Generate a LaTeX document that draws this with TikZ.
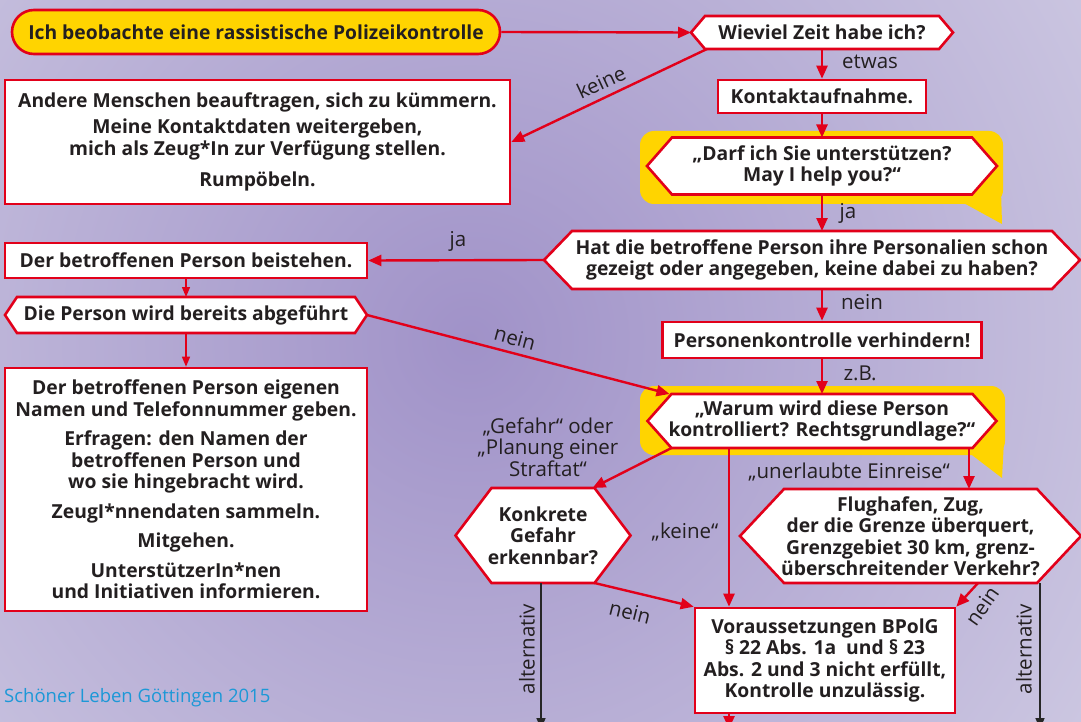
\documentclass[tikz,border=0pt]{standalone}
\usepackage{fontspec}
\setmainfont{Open Sans}
\usetikzlibrary{arrows.meta,calc}
\definecolor{rd}{RGB}{226,0,26}
\definecolor{yl}{RGB}{255,212,0}
\definecolor{tx}{RGB}{35,31,32}
\definecolor{bgA}{RGB}{160,146,200}
\definecolor{bgB}{RGB}{214,211,231}
\definecolor{ft}{RGB}{28,152,215}
\pgfdeclarelayer{bg}\pgfdeclarelayer{bubble}\pgfdeclarelayer{shapes}
\pgfsetlayers{bg,bubble,shapes,main}
\newcommand\hexframe[2]{\begin{pgfonlayer}{shapes}\draw[draw=rd,line width=2.6pt,fill=white] (#1.west) -- ([xshift=#2]#1.north west) -- ([xshift=-#2]#1.north east) -- (#1.east) -- ([xshift=-#2]#1.south east) -- ([xshift=#2]#1.south west) -- cycle;\end{pgfonlayer}}
\tikzset{
  boldtxt/.style={font=\bfseries\fontsize{19.3}{21.5}\selectfont, text=tx, align=center},
  box/.style={boldtxt, draw=rd, line width=2.6pt, fill=white, inner sep=0pt},
  hexn/.style={boldtxt, draw=none, inner sep=0pt, outer sep=0pt},
  conn/.style={draw=rd, line width=2.4pt, -{Triangle[length=13pt,width=11pt]}},
  thinconn/.style={draw=rd, line width=1.3pt, -{Triangle[length=10pt,width=8pt]}},
  blk/.style={draw=black!85, line width=1.6pt, -{Triangle[length=11pt,width=9pt]}},
  lbl/.style={text=tx, font=\fontsize{20.5}{21.5}\selectfont, inner sep=0pt, align=center},
}
\begin{document}
\begin{tikzpicture}[x=1pt,y=-1pt]
\useasboundingbox (0,0) rectangle (1081,722);
\begin{pgfonlayer}{bg}
  \clip (0,0) rectangle (1081,722);
  \fill[bgB] (0,0) rectangle (1081,722);
  \shade[inner color=bgA, outer color=bgB] (470,340) circle (900pt);
\end{pgfonlayer}
\begin{pgfonlayer}{bubble}
  \fill[yl, rounded corners=14pt] (640,131) rectangle (1003,204);
  \fill[yl] (960,201) -- (1002,224) -- (1001,190) -- cycle;
  \fill[yl, rounded corners=14pt] (640,386) rectangle (1005,455);
  \fill[yl] (968,452) -- (1002,478) -- (1004,440) -- cycle;
\end{pgfonlayer}

% nodes
\node[box, rounded corners=22pt, fill=yl, minimum width=488pt, minimum height=44pt] (start) at (256,32) {Ich beobachte eine rassistische Polizeikontrolle};
\node[hexn, minimum width=262pt, minimum height=33pt] (zeit) at (822,32.5) {Wieviel Zeit habe ich?};
\hexframe{zeit}{14pt}
\node[box, minimum width=208pt, minimum height=33pt] (kontakt) at (822,96.5) {Kontaktaufnahme.};
\node[hexn, minimum width=350pt, minimum height=57pt] (darf) at (822,166) {„Darf ich Sie unterstützen?\\May I help you?“};
\hexframe{darf}{25pt}
\node[hexn, minimum width=536pt, minimum height=58pt] (hat) at (812,260) {Hat die betroffene Person ihre Personalien schon\\gezeigt oder angegeben, keine dabei zu haben?};
\hexframe{hat}{28pt}
\node[box, minimum width=362pt, minimum height=35pt] (beist) at (186,260.5) {Der betroffenen Person beistehen.};
\node[hexn, minimum width=362pt, minimum height=36pt] (abg) at (186,315) {Die Person wird bereits abgeführt};
\hexframe{abg}{12pt}
\node[box, minimum width=362pt, minimum height=243pt] (liste) at (186,489.5) {Der betroffenen Person eigenen\\Namen und Telefonnummer geben.\\[8pt]Erfragen: den Namen der\\betroffenen Person und\\wo sie hingebracht wird.\\[8pt]ZeugI*nnendaten sammeln.\\[8pt]Mitgehen.\\[8pt]UnterstützerIn*nen\\und Initiativen informieren.};
\node[box, minimum width=505pt, minimum height=124pt] (anders) at (257.5,142) {Andere Menschen beauftragen, sich zu kümmern.\\[5pt]Meine Kontaktdaten weitergeben,\\mich als Zeug*In zur Verfügung stellen.\\[10pt]Rumpöbeln.};
\node[box, minimum width=319pt, minimum height=36pt] (pk) at (822,340) {Personenkontrolle verhindern!};
\node[hexn, minimum width=349pt, minimum height=54pt] (warum) at (822,421) {„Warum wird diese Person\\kontrolliert? Rechtsgrundlage?“};
\hexframe{warum}{24pt}
\node[hexn, minimum width=175pt, minimum height=95pt] (konkret) at (543,535.5) {Konkrete\\Gefahr\\erkennbar?};
\hexframe{konkret}{36pt}
\node[hexn, minimum width=341pt, minimum height=94pt] (flug) at (910.5,536) {Flughafen, Zug,\\der die Grenze überquert,\\Grenzgebiet 30 km, grenz-\\überschreitender Verkehr?};
\hexframe{flug}{44pt}
\node[box, minimum width=260pt, minimum height=105pt] (vor) at (825,660.5) {Voraussetzungen BPolG\\§ 22 Abs. 1a\ \ und § 23\\Abs. 2 und 3 nicht erfüllt,\\Kontrolle unzulässig.};

\node[anchor=west, text=ft, font=\fontsize{18.5}{20}\selectfont, inner sep=0pt] (foot) at (4,698) {Schöner Leben Göttingen 2015};

% helper coordinates
\coordinate (kx) at (729,0);
\coordinate (ex) at (969,0);
\coordinate (fx) at (978,0);
\coordinate (lx) at (541,0);
\coordinate (rx) at (1040,0);
\coordinate (vend) at (729,729);
\coordinate (lend) at (541,729);
\coordinate (rend) at (1040,729);

% connectors
\draw[conn] (start.east) -- (zeit.west);
\draw[conn] (zeit.south) -- (kontakt.north);
\draw[conn] ([xshift=16pt]zeit.south west) -- (anders.east);
\draw[conn] (kontakt.south) -- (darf.north);
\draw[conn] (darf.south) -- (darf.south |- hat.north);
\draw[conn] (hat.west) -- (beist.east);
\draw[thinconn] (beist.south) -- (abg.north);
\draw[thinconn] (abg.south) -- (liste.north);
\draw[conn] (abg.east) -- ([xshift=22pt]warum.north west);
\draw[conn] (pk.north |- hat.south) -- (pk.north);
\draw[conn] (pk.south) -- (warum.north);
\draw[conn] ([xshift=24pt]warum.south west) -- ([xshift=-38pt]konkret.north east);
\draw[conn] (warum.south -| kx) -- (vor.north -| kx);
\draw[conn] (warum.south -| ex) -- (flug.north -| ex);
\draw[conn] ([xshift=-36pt]konkret.south east) -- (vor.north west);
\draw[conn] (flug.south -| fx) -- (vor.north east);
\draw[conn] (vor.south -| kx) -- (vend);
\draw[blk] (konkret.south -| lx) -- (lend);
\draw[blk] (flug.south -| rx) -- (rend);

% labels
\node[lbl] (l1) at (870,62) {etwas};
\node[lbl, rotate=25] (l2) at (601,82) {keine};
\node[lbl] (l3) at (848,213) {ja};
\node[lbl] (l4) at (458,241) {ja};
\node[lbl] (l5) at (862,302) {nein};
\node[lbl, rotate=-15] (l6) at (515,338) {nein};
\node[lbl] (l7) at (860,373) {z.B.};
\node[lbl] (l8) at (548,447) {„Gefahr“ oder\\„Planung einer\\Straftat“};
\node[lbl] (l9) at (685,532) {„keine“};
\node[lbl] (l10) at (849,472) {„unerlaubte Einreise“};
\node[lbl, rotate=-14] (l11) at (630,612) {nein};
\node[lbl, rotate=55] (l12) at (982,606) {nein};
\node[lbl, rotate=90] (l13) at (527,649) {alternativ};
\node[lbl, rotate=90] (l14) at (1024,649) {alternativ};
\end{tikzpicture}
\end{document}
